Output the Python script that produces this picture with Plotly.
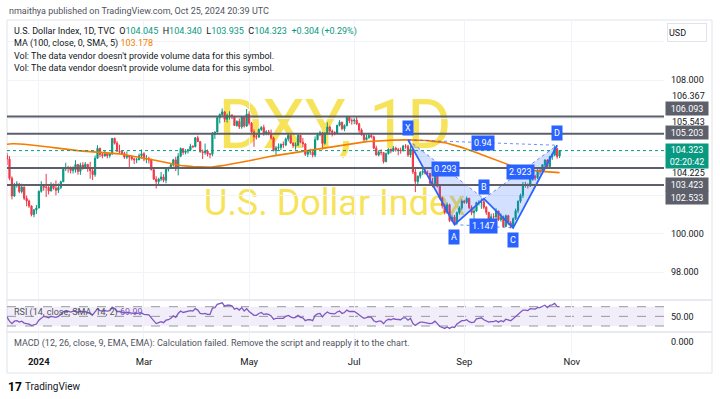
import pandas as pd
import plotly.graph_objects as go

W, H = 720, 399


def px(x):
    return x / W


def py(y):
    return 1 - y / H


# ---------------- data ----------------
opens = [
    103.98, 104.07, 103.88, 102.88, 101.96, 102.55, 102.58, 102.19, 102.42, 101.84, 101.70, 101.44, 100.99, 101.23,
    101.33, 102.20, 102.46, 102.42, 102.41, 102.22, 102.56, 102.36, 102.26, 102.40, 102.70, 103.38, 103.43, 103.42, 103.29, 103.33, 103.60, 103.24, 103.57, 103.44, 103.61, 103.40,
    103.27, 103.07, 103.92, 104.44, 104.12, 104.06, 104.15, 104.06, 104.14, 104.96, 104.71, 104.29, 104.27, 104.17, 103.98, 104.05, 103.99, 103.90, 103.84, 103.85, 104.06,
    104.16, 103.88, 103.90, 103.83, 103.33, 102.83, 102.71, 102.84, 102.95, 102.78, 103.35, 103.43, 103.58, 103.84, 103.40, 104.03, 104.43, 104.23, 104.30, 104.36, 104.55,
    104.53, 104.99, 104.79, 104.26, 104.22, 104.30, 104.14, 104.13, 105.18, 105.29, 106.04, 106.20, 106.34, 105.96, 106.15, 106.16, 106.10, 105.63, 105.84, 105.56, 106.07, 105.60,
    106.22, 105.75, 105.30, 105.04, 105.03, 105.42, 105.53, 105.20, 105.30, 105.22, 104.98, 104.33, 104.46, 104.49, 104.64, 104.62, 104.93, 105.11, 104.72, 104.58, 104.61, 105.12, 104.76,
    104.67, 104.13, 104.26, 104.26, 104.09, 104.89, 105.15, 105.25, 104.70, 105.23, 105.55, 105.34, 105.27, 105.24, 105.64, 105.80, 105.46, 105.63, 106.06, 105.88,
    105.87, 105.91, 105.72, 105.39, 105.14, 104.89, 105.00, 105.11, 105.04, 104.45, 104.09, 104.24, 104.22, 103.75, 104.16, 104.40, 104.30, 104.45, 104.37, 104.35, 104.32, 104.56, 104.55,
    104.10, 104.41, 103.21, 102.71, 102.99, 103.18, 103.24, 103.14, 103.13, 102.62, 102.60, 103.04, 102.46, 101.85, 101.45, 101.10, 101.50, 100.68, 100.86, 100.54, 101.09, 101.33,
    101.70, 101.63, 101.84, 101.36, 101.09, 101.18, 101.62, 101.63, 101.66, 101.37, 101.11, 100.75, 100.88, 100.87, 101.18, 100.72, 100.84, 100.37, 100.93, 100.55, 100.38,
    100.78, 101.19, 101.69, 101.99, 102.52, 102.55, 102.49, 102.92, 102.99, 102.91, 103.29, 103.25, 103.59, 103.83, 103.49, 104.01, 104.09, 104.42, 104.045,
]
highs = [
    104.26, 104.20, 104.03, 102.98, 102.64, 102.73, 102.64, 102.60, 102.46, 101.98, 101.77, 101.47, 101.29, 101.49,
    102.25, 102.73, 102.59, 103.11, 102.47, 102.68, 102.61, 102.77, 102.61, 102.76, 103.45, 103.69, 103.53, 103.50, 103.50, 103.82, 103.63, 103.69, 103.72, 103.73, 103.62, 103.74,
    103.47, 104.07, 104.60, 104.48, 104.24, 104.30, 104.20, 104.20, 104.97, 105.00, 104.81, 104.63, 104.35, 104.26, 104.28, 104.08, 104.07, 103.95, 103.95, 104.17, 104.38,
    104.24, 104.09, 104.00, 103.90, 103.39, 102.99, 102.91, 103.21, 103.09, 103.42, 103.48, 103.63, 103.89, 104.00, 104.19, 104.49, 104.43, 104.40, 104.42, 104.68, 104.60,
    105.03, 105.10, 104.82, 104.38, 104.69, 104.38, 104.20, 105.29, 105.32, 106.11, 106.26, 106.52, 106.37, 106.25, 106.37, 106.23, 106.14, 105.90, 105.99, 106.10, 106.13, 106.49,
    106.37, 105.81, 105.43, 105.20, 105.48, 105.60, 105.67, 105.39, 105.40, 105.42, 105.05, 104.57, 104.70, 104.70, 104.80, 105.00, 105.20, 105.15, 104.74, 104.75, 105.16, 105.15, 104.98,
    104.72, 104.30, 104.42, 104.35, 105.06, 105.25, 105.36, 105.29, 105.29, 105.80, 105.62, 105.42, 105.33, 105.67, 105.91, 105.83, 105.69, 106.13, 106.09, 106.00,
    106.01, 106.08, 105.77, 105.48, 105.23, 105.15, 105.18, 105.22, 105.10, 104.58, 104.34, 104.39, 104.25, 104.22, 104.44, 104.42, 104.56, 104.53, 104.47, 104.48, 104.62, 104.66, 104.63,
    104.56, 104.42, 103.37, 103.03, 103.25, 103.43, 103.35, 103.28, 103.17, 102.90, 103.20, 103.06, 102.53, 101.92, 101.56, 101.62, 101.56, 100.98, 100.97, 101.15, 101.43, 101.79,
    101.76, 101.93, 101.86, 101.47, 101.37, 101.66, 101.74, 101.83, 101.81, 101.43, 101.12, 101.04, 101.06, 101.32, 101.18, 101.06, 100.94, 100.99, 100.98, 100.66, 100.84,
    101.30, 101.72, 102.08, 102.69, 102.70, 102.62, 102.98, 103.18, 103.06, 103.36, 103.36, 103.61, 103.87, 103.87, 104.05, 104.18, 104.57, 104.47, 104.340,
]
lows = [
    103.84, 103.58, 102.78, 101.78, 101.91, 102.39, 102.10, 102.09, 101.75, 101.42, 101.34, 100.90, 100.85, 101.02,
    101.33, 102.13, 102.23, 101.90, 102.04, 102.20, 102.29, 101.99, 102.11, 102.32, 102.68, 103.26, 103.17, 103.13, 103.13, 103.18, 103.07, 103.06, 103.33, 103.36, 103.22, 102.86,
    102.79, 102.96, 103.90, 103.98, 103.92, 104.00, 103.92, 103.95, 104.11, 104.64, 104.28, 104.18, 104.11, 103.89, 103.88, 103.44, 103.81, 103.62, 103.67, 103.82, 103.90,
    103.77, 103.67, 103.65, 103.29, 102.80, 102.35, 102.58, 102.73, 102.67, 102.62, 103.23, 103.38, 103.49, 103.26, 103.03, 103.98, 104.10, 104.13, 104.17, 104.29, 104.45,
    104.49, 104.77, 104.22, 103.88, 104.10, 104.02, 103.92, 104.03, 104.93, 105.28, 105.74, 106.10, 105.81, 105.78, 105.94, 105.96, 105.62, 105.57, 105.45, 105.46, 105.52, 105.56,
    105.64, 105.24, 104.52, 104.90, 104.98, 105.35, 105.10, 105.12, 105.12, 104.89, 104.28, 104.08, 104.36, 104.35, 104.45, 104.55, 104.80, 104.66, 104.46, 104.37, 104.55, 104.70, 104.50,
    104.04, 103.99, 104.10, 103.97, 103.98, 104.86, 105.07, 104.38, 104.63, 105.17, 105.23, 105.06, 105.12, 105.20, 105.58, 105.38, 105.33, 105.58, 105.75, 105.67,
    105.70, 105.66, 105.25, 105.10, 104.80, 104.85, 104.94, 104.96, 104.39, 104.08, 104.02, 104.08, 103.65, 103.71, 104.12, 104.19, 104.26, 104.27, 104.08, 104.16, 104.28, 104.42, 103.99,
    103.96, 103.10, 102.16, 102.58, 102.86, 103.05, 103.07, 103.00, 102.54, 102.41, 102.45, 102.40, 101.78, 101.30, 101.00, 101.02, 100.60, 100.61, 100.52, 100.51, 100.99, 101.23,
    101.55, 101.55, 101.27, 100.96, 100.74, 101.14, 101.46, 101.29, 101.27, 100.97, 100.66, 100.67, 100.35, 100.58, 100.66, 100.62, 100.32, 100.37, 100.45, 100.28, 100.25,
    100.71, 101.06, 101.59, 101.85, 102.39, 102.35, 102.43, 102.75, 102.77, 102.84, 103.07, 103.21, 103.46, 103.38, 103.47, 103.84, 104.03, 103.90, 103.935,
]
closes = [
    104.07, 103.88, 102.88, 101.96, 102.55, 102.58, 102.19, 102.42, 101.84, 101.70, 101.44, 100.99, 101.23, 101.33,
    102.20, 102.46, 102.42, 102.41, 102.22, 102.56, 102.36, 102.26, 102.40, 102.70, 103.38, 103.43, 103.42, 103.29, 103.33, 103.60, 103.24, 103.57, 103.44, 103.61, 103.40, 103.27,
    103.07, 103.92, 104.44, 104.12, 104.06, 104.15, 104.06, 104.14, 104.96, 104.71, 104.29, 104.27, 104.17, 103.98, 104.05, 103.99, 103.90, 103.84, 103.85, 104.06, 104.16,
    103.88, 103.90, 103.83, 103.33, 102.83, 102.71, 102.84, 102.95, 102.78, 103.35, 103.43, 103.58, 103.84, 103.40, 104.03, 104.43, 104.23, 104.30, 104.36, 104.55, 104.53,
    104.99, 104.79, 104.26, 104.22, 104.30, 104.14, 104.13, 105.18, 105.29, 106.04, 106.20, 106.34, 105.96, 106.15, 106.16, 106.10, 105.63, 105.84, 105.56, 106.07, 105.60, 106.22,
    105.75, 105.30, 105.04, 105.03, 105.42, 105.53, 105.20, 105.30, 105.22, 104.98, 104.33, 104.46, 104.49, 104.64, 104.62, 104.93, 105.11, 104.72, 104.58, 104.61, 105.12, 104.76, 104.67,
    104.13, 104.26, 104.26, 104.09, 104.89, 105.15, 105.25, 104.70, 105.23, 105.55, 105.34, 105.27, 105.24, 105.64, 105.80, 105.46, 105.63, 106.06, 105.88, 105.87,
    105.91, 105.72, 105.39, 105.14, 104.89, 105.00, 105.11, 105.04, 104.45, 104.09, 104.24, 104.22, 103.75, 104.16, 104.40, 104.30, 104.45, 104.37, 104.35, 104.32, 104.56, 104.55, 104.10,
    104.41, 103.21, 102.71, 102.99, 103.18, 103.24, 103.14, 103.13, 102.62, 102.60, 103.04, 102.46, 101.85, 101.45, 101.10, 101.50, 100.68, 100.86, 100.54, 101.09, 101.33, 101.70,
    101.63, 101.84, 101.36, 101.09, 101.18, 101.62, 101.63, 101.66, 101.37, 101.11, 100.75, 100.88, 100.87, 101.18, 100.72, 100.84, 100.37, 100.93, 100.55, 100.38, 100.78,
    101.19, 101.69, 101.99, 102.52, 102.55, 102.49, 102.92, 102.99, 102.91, 103.29, 103.25, 103.59, 103.83, 103.49, 104.01, 104.09, 104.42, 104.019, 104.323,
]
ma100 = [
    104.64, 104.66, 104.67, 104.68, 104.68, 104.68, 104.67, 104.66, 104.65, 104.64, 104.63, 104.62, 104.61, 104.60,
    104.59, 104.57, 104.56, 104.54, 104.52, 104.50, 104.48, 104.46, 104.44, 104.42, 104.40, 104.38, 104.36, 104.35, 104.34, 104.33, 104.32, 104.31, 104.30, 104.30, 104.29, 104.28,
    104.28, 104.27, 104.26, 104.25, 104.25, 104.24, 104.23, 104.22, 104.21, 104.19, 104.17, 104.15, 104.13, 104.11, 104.09, 104.07, 104.04, 104.01, 103.99, 103.97, 103.95,
    103.93, 103.91, 103.89, 103.86, 103.83, 103.80, 103.77, 103.74, 103.71, 103.68, 103.66, 103.63, 103.61, 103.59, 103.57, 103.55, 103.53, 103.52, 103.51, 103.50, 103.49,
    103.48, 103.47, 103.47, 103.46, 103.46, 103.46, 103.46, 103.47, 103.48, 103.50, 103.52, 103.54, 103.56, 103.58, 103.60, 103.62, 103.64, 103.66, 103.68, 103.71, 103.73, 103.76,
    103.79, 103.82, 103.85, 103.88, 103.91, 103.94, 103.96, 103.98, 104.00, 104.03, 104.05, 104.07, 104.09, 104.11, 104.13, 104.16, 104.18, 104.20, 104.22, 104.24, 104.26, 104.28, 104.30,
    104.33, 104.35, 104.37, 104.39, 104.41, 104.43, 104.45, 104.47, 104.49, 104.51, 104.53, 104.55, 104.57, 104.59, 104.61, 104.63, 104.65, 104.67, 104.69, 104.71,
    104.73, 104.75, 104.76, 104.77, 104.78, 104.79, 104.80, 104.81, 104.82, 104.83, 104.83, 104.84, 104.85, 104.85, 104.86, 104.86, 104.87, 104.87, 104.88, 104.88, 104.88, 104.88, 104.88,
    104.88, 104.87, 104.87, 104.86, 104.86, 104.85, 104.85, 104.84, 104.83, 104.82, 104.81, 104.80, 104.78, 104.76, 104.74, 104.71, 104.68, 104.65, 104.61, 104.57, 104.53, 104.49,
    104.45, 104.41, 104.37, 104.32, 104.27, 104.22, 104.17, 104.12, 104.07, 104.02, 103.97, 103.92, 103.87, 103.82, 103.77, 103.72, 103.67, 103.62, 103.57, 103.53, 103.49,
    103.45, 103.42, 103.39, 103.37, 103.35, 103.33, 103.31, 103.29, 103.27, 103.26, 103.25, 103.24, 103.23, 103.22, 103.21, 103.20, 103.19, 103.185, 103.178,
]
rsi = [
    50, 48, 40, 35, 40, 41, 38, 40, 36, 35, 34, 31, 33, 34,
    42, 47, 50, 49, 47, 50, 49, 48, 50, 54, 60, 61, 61, 59, 60, 62, 58, 61, 59, 60, 57, 56,
    53, 60, 66, 62, 61, 62, 61, 62, 69, 66, 60, 60, 59, 57, 58, 57, 57, 56, 56, 57, 57,
    54, 54, 53, 47, 40, 35, 37, 39, 37, 42, 43, 46, 51, 48, 56, 61, 58, 59, 60, 62, 61,
    66, 63, 56, 55, 56, 54, 54, 67, 68, 75, 76, 78, 71, 73, 73, 72, 65, 67, 63, 68, 61, 66,
    60, 55, 52, 52, 56, 58, 54, 55, 54, 51, 44, 46, 46, 46, 46, 50, 52, 49, 47, 48, 52, 48, 47,
    41, 43, 43, 41, 52, 55, 56, 49, 55, 59, 56, 55, 55, 59, 61, 56, 58, 63, 60, 60,
    60, 57, 52, 49, 46, 48, 49, 48, 41, 38, 40, 40, 35, 41, 44, 43, 45, 44, 44, 43, 47, 47, 42,
    46, 35, 31, 35, 38, 38, 37, 37, 35, 36, 40, 35, 29, 27, 25, 28, 25, 28, 27, 34, 37, 41,
    41, 43, 39, 37, 38, 45, 46, 47, 43, 40, 38, 39, 39, 41, 38, 41, 39, 44, 42, 41, 45,
    50, 55, 58, 63, 63, 62, 66, 66, 65, 68, 68, 71, 73, 68, 73, 74, 77, 70, 69.99,
]

# horizontal levels drawn on the chart and extra price-scale values
levels = [106.093, 105.203, 103.423, 102.533]
extra_scale_values = [106.367, 105.543, 104.225]
rsi_levels = [70, 50, 30]

# XABCD harmonic pattern drawing
pattern_labels = ["X", "A", "B", "C", "D"]
pattern_dates = ["2024-07-31", "2024-08-27", "2024-09-12", "2024-09-30", "2024-10-24"]
pattern_prices = [104.88, 100.47, 101.82, 100.30, 104.60]
ratio_pairs = [(0, 2), (1, 3), (2, 4), (0, 4)]
ratio_texts = ["0.293", "1.147", "2.923", "0.94"]

# time axis ticks
tick_dates = ["2024-01-02", "2024-03-01", "2024-05-01", "2024-07-01", "2024-09-02", "2024-11-01"]
tick_text = ["<b>2024</b>", "Mar", "May", "Jul", "Sep", "Nov"]
price_ticks = [98, 100, 102, 104, 106, 108, 110]
price_tick_text = ["98.000", "100.000", "", "", "", "108.000", ""]

holidays = ["2023-12-25", "2024-01-01"]
dates = [d for d in pd.bdate_range("2023-12-11", "2024-10-25") if d.strftime("%Y-%m-%d") not in holidays]
n = len(dates)
for arr in (opens, highs, lows, closes, ma100, rsi):
    assert len(arr) == n, (len(arr), n)

# ---------------- style ----------------
FONT = "Roboto, 'Liberation Sans', sans-serif"
TXT = "#131722"
GREY = "#50535e"
UP = "#089981"
DOWN = "#f23645"
BLUE = "#2962ff"
PURPLE = "#7e57c2"
ORANGE = "#f57c00"
LEVEL = "#5d606b"
WM = "#f7e35a"
GRID = "#f0f3fa"
BORDER = "#e0e3eb"
NB = "\u00a0"

fig = go.Figure()

fig.add_trace(go.Candlestick(
    x=dates, open=opens, high=highs, low=lows, close=closes,
    increasing=dict(line=dict(color=UP, width=1), fillcolor=UP),
    decreasing=dict(line=dict(color=DOWN, width=1), fillcolor=DOWN),
    whiskerwidth=0, showlegend=False, hoverinfo="skip", xaxis="x", yaxis="y"))

fig.add_trace(go.Scatter(x=dates, y=ma100, mode="lines", line=dict(color=ORANGE, width=1.6),
                         showlegend=False, hoverinfo="skip", xaxis="x", yaxis="y"))

# pattern
pdates = [pd.Timestamp(d) for d in pattern_dates]
for tri in ((0, 1, 2, 0), (2, 3, 4, 2)):
    fig.add_trace(go.Scatter(x=[pdates[k] for k in tri], y=[pattern_prices[k] for k in tri],
                             mode="lines", fill="toself", fillcolor="rgba(41,98,255,0.2)",
                             line=dict(width=0), showlegend=False, hoverinfo="skip"))
for a, b in ratio_pairs:
    fig.add_trace(go.Scatter(x=[pdates[a], pdates[b]], y=[pattern_prices[a], pattern_prices[b]],
                             mode="lines", line=dict(color="rgba(41,98,255,0.7)", width=1, dash="dot"),
                             showlegend=False, hoverinfo="skip"))
fig.add_trace(go.Scatter(x=pdates, y=pattern_prices, mode="lines", line=dict(color=BLUE, width=1.8),
                         showlegend=False, hoverinfo="skip"))

# RSI
fig.add_trace(go.Scatter(x=dates, y=rsi, mode="lines", line=dict(color=PURPLE, width=1.3),
                         showlegend=False, hoverinfo="skip", xaxis="x", yaxis="y2"))
# empty MACD pane
fig.add_trace(go.Scatter(x=[], y=[], mode="lines", showlegend=False, xaxis="x", yaxis="y3"))

shapes = []
annotations = []

# frame and pane separators
shapes.append(dict(type="rect", xref="paper", yref="paper", x0=px(7), x1=px(712), y0=py(373), y1=py(20),
                   line=dict(color=BORDER, width=1), layer="below"))
for ys in (300, 332):
    shapes.append(dict(type="line", xref="paper", yref="paper", x0=px(7), x1=px(712), y0=py(ys), y1=py(ys),
                       line=dict(color=BORDER, width=1.5), layer="below"))

# watermark (drawn below the candles)
shapes.append(dict(type="rect", xref="paper", yref="paper", x0=px(200), x1=px(470), y0=py(146), y1=py(94),
                   line=dict(width=0), fillcolor="rgba(0,0,0,0)", layer="below",
                   label=dict(text="DXY, 1D", textposition="middle center",
                              font=dict(family=FONT, size=68, color=WM))))
shapes.append(dict(type="rect", xref="paper", yref="paper", x0=px(190), x1=px(480), y0=py(216), y1=py(184),
                   line=dict(width=0), fillcolor="rgba(0,0,0,0)", layer="below",
                   label=dict(text="U.S. Dollar Index", textposition="middle center",
                              font=dict(family=FONT, size=36, color=WM))))

# horizontal levels
for v in levels:
    shapes.append(dict(type="line", xref="x domain", yref="y", x0=0, x1=1, y0=v, y1=v,
                       line=dict(color=LEVEL, width=2)))
# last price line
shapes.append(dict(type="line", xref="x domain", yref="y", x0=0, x1=1, y0=closes[-1], y1=closes[-1],
                   line=dict(color=UP, width=1, dash="dot")))

# RSI band
shapes.append(dict(type="rect", xref="x domain", yref="y2", x0=0, x1=1, y0=rsi_levels[2], y1=rsi_levels[0],
                   fillcolor="rgba(126,87,194,0.1)", line=dict(width=0), layer="below"))
for v in rsi_levels:
    shapes.append(dict(type="line", xref="x domain", yref="y2", x0=0, x1=1, y0=v, y1=v,
                       line=dict(color="#9598a1", width=1, dash="dash"), layer="below"))

# pattern point labels
offsets = [1, -1, 1, -1, 1]
for lab, d, p, o in zip(pattern_labels, pdates, pattern_prices, offsets):
    annotations.append(dict(x=d, y=p, xref="x", yref="y", text=lab, showarrow=False,
                            yshift=12 * o, bgcolor=BLUE, borderpad=2,
                            font=dict(family=FONT, size=9, color="white")))
idx = {d: i for i, d in enumerate(dates)}
for (a, b), t in zip(ratio_pairs, ratio_texts):
    m = (idx[pdates[a]] + idx[pdates[b]]) / 2
    base = int(m)
    xm = dates[base] + pd.Timedelta(days=m - base)
    ym = (pattern_prices[a] + pattern_prices[b]) / 2
    annotations.append(dict(x=xm, y=ym, xref="x", yref="y", text=t, showarrow=False,
                            bgcolor=BLUE, borderpad=2, font=dict(family=FONT, size=9, color="white")))

# header and legend
annotations.append(dict(x=px(7), y=py(11), xref="paper", yref="paper", xanchor="left", yanchor="middle",
                        text="nmaithya published on TradingView.com, Oct 25, 2024 20:39 UTC",
                        showarrow=False, font=dict(family=FONT, size=9, color=GREY)))
chg = closes[-1] - closes[-2]
pct = chg / closes[-2] * 100


def g(v):
    return f"<span style='color:{UP}'>{v}</span>"


line1 = (f"U.S. Dollar Index, 1D, TVC{NB * 2}O{g(f'{opens[-1]:.3f}')}{NB * 2}H{g(f'{highs[-1]:.3f}')}"
         f"{NB * 2}L{g(f'{lows[-1]:.3f}')}{NB * 2}C{g(f'{closes[-1]:.3f}')}{NB * 2}{g(f'{chg:+.3f} ({pct:+.2f}%)')}")
legend_lines = [
    (31, line1),
    (43.5, f"MA (100, close, 0, SMA, 5){NB}<span style='color:{ORANGE}'>{ma100[-1]:.3f}</span>"),
    (56, "Vol: The data vendor doesn't provide volume data for this symbol."),
    (68.5, "Vol: The data vendor doesn't provide volume data for this symbol."),
]
for yy, t in legend_lines:
    annotations.append(dict(x=px(12), y=py(yy), xref="paper", yref="paper", xanchor="left", yanchor="middle",
                            text=t, showarrow=False, font=dict(family=FONT, size=9, color=TXT)))

# price scale labels
for v, yy in zip(levels, [109, 133, 185, 197.5]):
    annotations.append(dict(x=px(665), y=py(yy), xref="paper", yref="paper", xanchor="left", yanchor="middle",
                            text=f"{v:.3f}", showarrow=False, bgcolor=LEVEL, width=40, height=11,
                            align="center", borderpad=1, font=dict(family=FONT, size=9, color="white")))
for v, yy in zip(extra_scale_values, [96, 121.5, 173]):
    annotations.append(dict(x=px(670), y=py(yy), xref="paper", yref="paper", xanchor="left", yanchor="middle",
                            text=f"{v:.3f}", showarrow=False, font=dict(family=FONT, size=9, color=TXT)))
annotations.append(dict(x=px(665), y=py(155.5), xref="paper", yref="paper", xanchor="left", yanchor="middle",
                        text=f"{closes[-1]:.3f}<br>02:20:42", showarrow=False, bgcolor=UP, width=40, height=22,
                        align="center", borderpad=1, font=dict(family=FONT, size=9, color="white")))
annotations.append(dict(x=px(667), y=py(32.5), xref="paper", yref="paper", xanchor="left", yanchor="middle",
                        text="USD", showarrow=False, bgcolor="white", bordercolor=BORDER, borderwidth=1,
                        width=36, height=15, align="left", borderpad=1,
                        font=dict(family=FONT, size=9, color=TXT)))

# indicator titles
annotations.append(dict(x=px(12), y=py(312), xref="paper", yref="paper", xanchor="left", yanchor="middle",
                        text=f"RSI (14, close, SMA, 14, 2){NB}<span style='color:{PURPLE}'>{rsi[-1]:.2f}</span>",
                        showarrow=False, font=dict(family=FONT, size=9, color=GREY)))
annotations.append(dict(x=px(12), y=py(343), xref="paper", yref="paper", xanchor="left", yanchor="middle",
                        text="MACD (12, 26, close, 9, EMA, EMA): Calculation failed. Remove the script and reapply it to the chart.",
                        showarrow=False, font=dict(family=FONT, size=9, color=GREY)))

# TradingView logo
annotations.append(dict(x=px(6), y=py(386.5), xref="paper", yref="paper", xanchor="left", yanchor="middle",
                        text="<b>17</b>", showarrow=False, font=dict(family=FONT, size=12, color="#000000")))
annotations.append(dict(x=px(23), y=py(386.5), xref="paper", yref="paper", xanchor="left", yanchor="middle",
                        text="TradingView", showarrow=False, font=dict(family=FONT, size=10, color=TXT)))

x_start = dates[0] + pd.Timedelta(hours=23.5)
x_end = pd.Timestamp("2024-12-24 16:48")

fig.update_layout(
    width=W, height=H, margin=dict(l=0, r=0, t=0, b=0),
    paper_bgcolor="white", plot_bgcolor="white", showlegend=False,
    font=dict(family=FONT, size=9, color=TXT),
    xaxis=dict(domain=[px(7), px(664)], type="date", range=[x_start, x_end],
               rangebreaks=[dict(bounds=["sat", "mon"]), dict(values=holidays)],
               rangeslider=dict(visible=False), tickmode="array", tickvals=tick_dates, ticktext=tick_text,
               showgrid=True, gridcolor=GRID, gridwidth=1, ticks="", showline=False, zeroline=False,
               anchor="y3", tickfont=dict(family=FONT, size=9.5, color=TXT)),
    yaxis=dict(domain=[py(299), py(20)], range=[96.594, 111.125], side="right", anchor="x",
               tickmode="array", tickvals=price_ticks, ticktext=price_tick_text,
               showgrid=True, gridcolor=GRID, zeroline=False, ticks="", showline=False,
               ticklabelstandoff=6, tickfont=dict(family=FONT, size=9, color=TXT)),
    yaxis2=dict(domain=[py(331.5), py(300.5)], range=[18.6, 82.85], side="right", anchor="x",
                tickmode="array", tickvals=[50], ticktext=["50.00"], showgrid=False, zeroline=False,
                ticks="", showline=False, ticklabelstandoff=6, tickfont=dict(family=FONT, size=9, color=TXT)),
    yaxis3=dict(domain=[py(354), py(332.5)], range=[-0.558, 0.442], side="right", anchor="x",
                tickmode="array", tickvals=[0], ticktext=["0.000"], showgrid=False, zeroline=False,
                ticks="", showline=False, ticklabelstandoff=6, tickfont=dict(family=FONT, size=9, color=TXT)),
    shapes=shapes, annotations=annotations,
)

fig.write_html("out.html", config={"displayModeBar": False},
               post_script="document.body.style.margin='0';document.body.style.overflow='hidden';")
